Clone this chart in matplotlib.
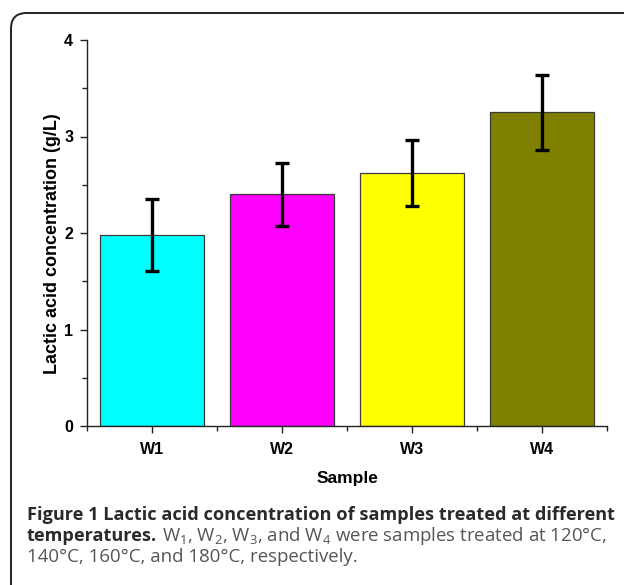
import matplotlib
matplotlib.use("Agg")
import matplotlib.pyplot as plt
from matplotlib.patches import FancyBboxPatch
from matplotlib.ticker import MultipleLocator, FixedLocator
import numpy as np

samples = ["W1", "W2", "W3", "W4"]
values = [1.98, 2.40, 2.62, 3.25]
errors = [0.37, 0.33, 0.34, 0.39]
colors = ["#00FFFF", "#FF00FF", "#FFFF00", "#808000"]

cap_bold_1 = "Figure 1 Lactic acid concentration of samples treated at different"
cap_bold_2 = "temperatures."
cap_reg_2 = "W$_1$, W$_2$, W$_3$, and W$_4$ were samples treated at 120°C,"
cap_reg_3 = "140°C, 160°C, and 180°C, respectively."

plt.rcParams["mathtext.fontset"] = "custom"
plt.rcParams["mathtext.rm"] = "Open Sans"
plt.rcParams["mathtext.it"] = "Open Sans:italic"
plt.rcParams["mathtext.bf"] = "Open Sans:bold"

W, H = 624, 585
fig = plt.figure(figsize=(W / 100, H / 100), dpi=100)

# rounded frame
frame = FancyBboxPatch((11 / W, -20 / H), (W + 30) / W, (H - 13 + 20) / H,
                       boxstyle="round,pad=0,rounding_size=0.025",
                       transform=fig.transFigure, fill=False,
                       edgecolor="#222222", linewidth=1.4, mutation_aspect=W / H)
fig.patches.append(frame)

ax = fig.add_axes([87 / W, (H - 426) / H, (607 - 87) / W, (426 - 40) / H])
x = np.arange(1, len(samples) + 1)
ax.bar(x, values, width=0.8, color=colors, edgecolor="#3a3a3a", linewidth=0.9, zorder=2)
ax.errorbar(x, values, yerr=errors, fmt="none", ecolor="black",
            elinewidth=2.4, capsize=5.2, capthick=2.4, zorder=3)

ax.set_xlim(0.5, 4.5)
ax.set_ylim(0, 4)
for s in ["top", "right"]:
    ax.spines[s].set_visible(False)
for s in ["left", "bottom"]:
    ax.spines[s].set_linewidth(1.0)
    ax.spines[s].set_color("#222222")

ax.set_xticks(x)
ax.set_xticklabels(samples)
ax.xaxis.set_minor_locator(FixedLocator([0.5, 1.5, 2.5, 3.5, 4.5]))
ax.yaxis.set_major_locator(MultipleLocator(1))
ax.yaxis.set_minor_locator(MultipleLocator(0.5))
ax.tick_params(axis="both", which="major", direction="out", length=5, width=1.0,
               color="#222222", labelsize=11.5, pad=5)
ax.tick_params(axis="both", which="minor", direction="out", length=3.5, width=1.0,
               color="#222222")
for lab in ax.get_xticklabels() + ax.get_yticklabels():
    lab.set_fontfamily("Liberation Sans")
    lab.set_fontweight("bold")
ax.tick_params(axis="x", which="major", pad=6.5)

xl = ax.set_xlabel("Sample", fontfamily="Liberation Sans", fontweight="bold",
                   fontsize=12.5, va="center")
ax.xaxis.set_label_coords(0.5, (426 - 479) / 386)
yl = ax.set_ylabel("Lactic acid concentration (g/L)", fontfamily="Liberation Sans",
                   fontweight="bold", fontsize=13, va="center")
ax.yaxis.set_label_coords((53 - 87) / 520, (426 - 243.5) / 386)

# caption
bold_pt = 13.1
reg_pt = 13.4
fig.text(27 / W, 1 - 515 / H, cap_bold_1, fontfamily="Open Sans", fontweight="bold",
         fontsize=bold_pt, color="#2a2a2a", va="center", ha="left")
t2 = fig.text(27 / W, 1 - 536 / H, cap_bold_2, fontfamily="Open Sans", fontweight="bold",
              fontsize=bold_pt, color="#2a2a2a", va="center", ha="left")
fig.canvas.draw()
r = fig.canvas.get_renderer()
bb = t2.get_window_extent(r)
fig.text(bb.x1 / W + 5 / W, 1 - 536 / H, cap_reg_2, fontfamily="Open Sans",
         fontsize=reg_pt, color="#555555", va="center", ha="left")
fig.text(27 / W, 1 - 557 / H, cap_reg_3, fontfamily="Open Sans",
         fontsize=reg_pt, color="#555555", va="center", ha="left")

fig.savefig("out.png", dpi=100)
